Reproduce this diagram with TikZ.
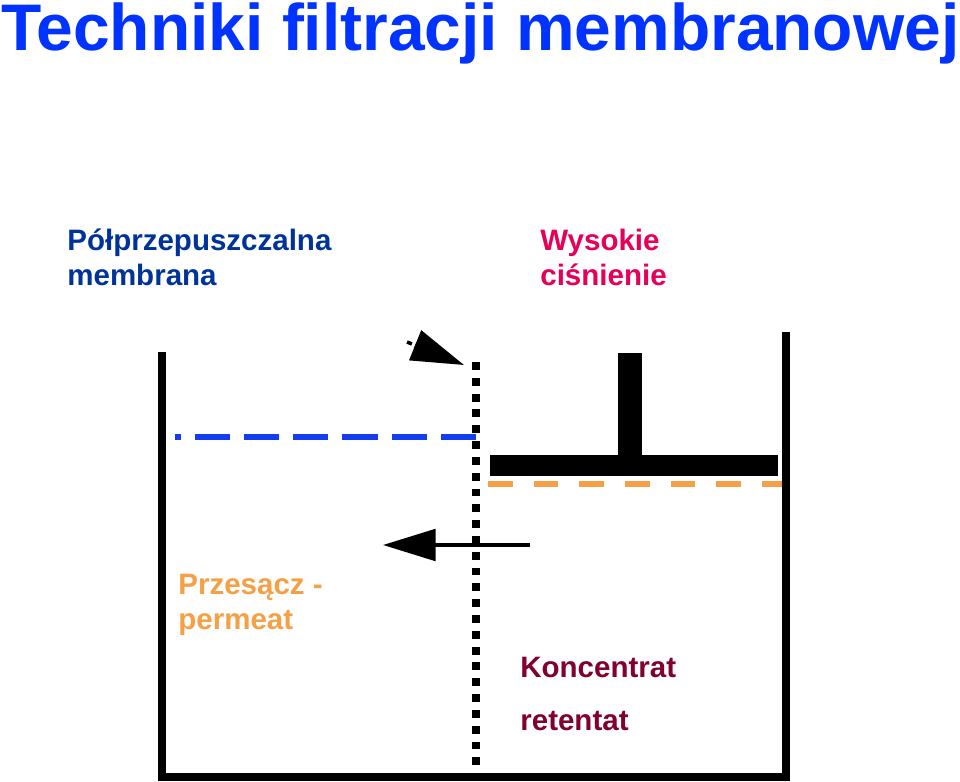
\documentclass[tikz,border=0pt]{standalone}
\usepackage{fontspec}
\setmainfont{Liberation Sans}
\usetikzlibrary{arrows.meta}
\definecolor{titleblue}{RGB}{0,51,255}
\definecolor{darkblue}{RGB}{0,51,153}
\definecolor{hotpink}{RGB}{230,0,90}
\definecolor{orangeline}{RGB}{245,160,70}
\definecolor{wine}{RGB}{128,0,48}
\definecolor{levelblue}{RGB}{20,60,240}
\tikzset{
  label/.style={anchor=base west,inner sep=0pt,font=\fontsize{16.8}{20}\selectfont\bfseries},
  wall/.style={line width=4.8pt},
  bigarrow/.style={line width=2pt,-{Triangle[length=30pt,width=18pt]}}
}
\begin{document}
\begin{tikzpicture}[x=0.02cm,y=-0.02cm]
\useasboundingbox (0,0) rectangle (960,781);
\node[anchor=base west,inner sep=0pt,text=titleblue,font=\fontsize{37.5}{40}\selectfont\bfseries] (title) at (1,51) {Techniki filtracji membranowej};
\node[label,text=darkblue] (membr) at (67,250) {Półprzepuszczalna};
\node[label,text=darkblue] (membr2) at (67,285) {membrana};
\node[label,text=hotpink] (press) at (540,250) {Wysokie};
\node[label,text=hotpink] (press2) at (540,285) {ciśnienie};
\node[label,text=orangeline] (perm) at (178,594) {Przesącz -};
\node[label,text=orangeline] (perm2) at (178,629) {permeat};
\node[label,text=wine] (konc) at (520,677) {Koncentrat};
\node[label,text=wine] (ret) at (520,730) {retentat};
% vessel
\coordinate (lt) at (162,352);
\coordinate (rt) at (786,332);
\draw[wall] (lt) -- (162,777) -- (786,777) -- (rt);
% membrane
\coordinate (mt) at (476,362);
\coordinate (mb) at (476,781);
\draw[line width=4pt,dash pattern=on 4.5pt off 4.5pt] (mt) -- (mb);
% liquid levels
\draw[levelblue,line width=3pt,dash pattern=on 20pt off 8pt] (476,437) -- (175,437);
\draw[orangeline,line width=3pt,dash pattern=on 14pt off 12pt] (488,484) -- (782,484);
% piston
\fill (490,455) rectangle (778,476);
\fill (618,353) rectangle (642,455);
% arrows
\coordinate (a1) at (407,342);
\coordinate (a2) at (464,365);
\draw[bigarrow,dash pattern=on 3pt off 2pt] (a1) -- (a2);
\coordinate (b1) at (530,545);
\coordinate (b2) at (383,545);
\draw[bigarrow] (b1) -- (b2);
\end{tikzpicture}
\end{document}
